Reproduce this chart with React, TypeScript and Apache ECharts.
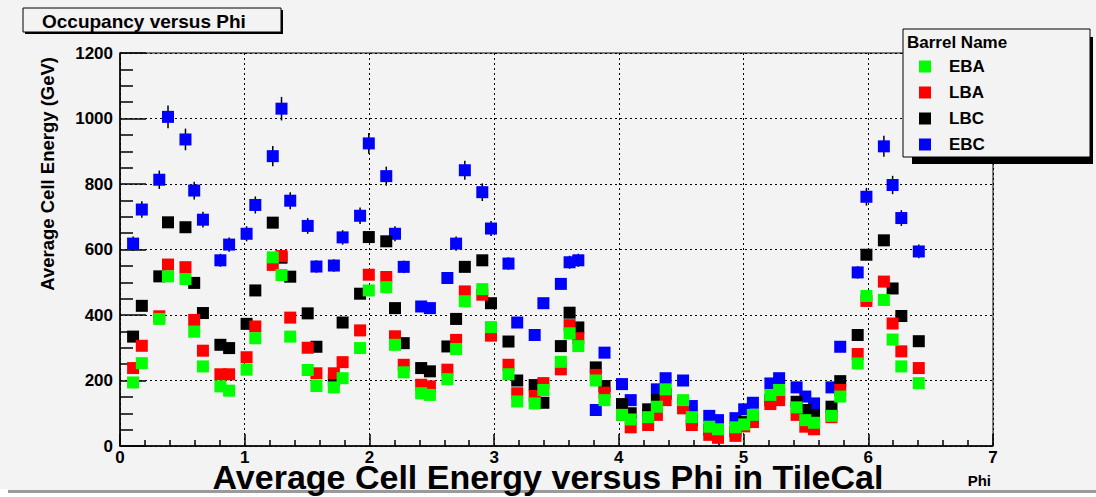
import React, { useEffect, useRef } from "react";
import * as echarts from "echarts";

// Phi bin centres where modules fall
const phi = [
  0.105, 0.175, 0.315, 0.385, 0.525, 0.595, 0.665, 0.805, 0.875, 1.015,
  1.085, 1.225, 1.295, 1.365, 1.505, 1.575, 1.715, 1.785, 1.925, 1.995,
  2.135, 2.205, 2.275, 2.415, 2.485, 2.625, 2.695, 2.765, 2.905, 2.975,
  3.115, 3.185, 3.325, 3.395, 3.535, 3.605, 3.675, 3.815, 3.885, 4.025,
  4.095, 4.235, 4.305, 4.375, 4.515, 4.585, 4.725, 4.795, 4.935, 5.005,
  5.075, 5.215, 5.285, 5.425, 5.495, 5.565, 5.705, 5.775, 5.915, 5.985,
  6.125, 6.195, 6.265, 6.405,
];

const eba = [
  194, 253, 388, 518, 510, 349, 243, 182, 169, 233,
  329, 576, 522, 334, 232, 183, 179, 207, 299, 475,
  485, 309, 225, 161, 156, 204, 296, 442, 479, 363,
  219, 136, 130, 171, 257, 344, 305, 200, 140, 95,
  81, 88, 120, 173, 140, 88, 59, 51, 57, 66,
  95, 156, 171, 118, 79, 71, 92, 151, 252, 458,
  446, 325, 243, 192,
];

const lba = [
  238, 306, 396, 554, 546, 385, 291, 219, 219, 271,
  365, 553, 580, 392, 300, 222, 222, 256, 353, 523,
  516, 335, 248, 187, 182, 233, 324, 472, 462, 337,
  248, 161, 153, 192, 234, 369, 329, 217, 163, 95,
  57, 64, 95, 140, 115, 64, 34, 25, 31, 60,
  73, 128, 140, 95, 59, 51, 88, 171, 281, 443,
  502, 374, 289, 238,
];

const lbc = [
  334, 428, 518, 683, 668, 498, 406, 309, 299, 373,
  475, 682, 575, 517, 405, 303, 200, 377, 465, 638,
  625, 421, 314, 238, 228, 304, 388, 547, 567, 436,
  319, 200, 186, 132, 305, 407, 362, 240, 183, 128,
  100, 112, 140, 160, 130, 80, 50, 40, 45, 73,
  85, 140, 155, 135, 110, 95, 120, 198, 339, 584,
  628, 481, 397, 320,
];

const ebc = [
  618, 722, 813, 1005, 936, 780, 691, 567, 615, 648,
  736, 885, 1030, 749, 672, 548, 551, 637, 703, 924,
  824, 648, 547, 426, 421, 513, 618, 842, 775, 664,
  557, 377, 339, 436, 495, 561, 567, 110, 285, 189,
  140, 95, 173, 207, 200, 122, 92, 79, 85, 112,
  132, 191, 207, 179, 151, 130, 179, 303, 530, 761,
  915, 797, 696, 594,
];

const ebcErr = [
  22, 25, 28, 35, 33, 27, 24, 20, 22, 23,
  26, 31, 36, 26, 24, 19, 19, 22, 25, 32,
  29, 23, 19, 15, 15, 18, 22, 29, 27, 23,
  19, 13, 12, 15, 17, 20, 20, 4, 10, 7,
  5, 4, 6, 7, 7, 5, 4, 3, 3, 4,
  5, 7, 7, 6, 5, 5, 6, 11, 19, 27,
  32, 28, 24, 21,
];

const legendNames = ["EBA", "LBA", "LBC", "EBC"];
const yTicks = [0, 200, 400, 600, 800, 1000, 1200];
const xTicks = [0, 1, 2, 3, 4, 5, 6, 7];

export default function App() {
  const ref = useRef<HTMLDivElement>(null);
  useEffect(() => {
    const chart = echarts.init(ref.current!, null, { renderer: "svg" });
    const font = "'Liberation Sans', Arial, Helvetica, sans-serif";
    const mk = (ys: number[]) => phi.map((x, i) => [x, ys[i]]);
    const bold = (size: number) => ({ fontSize: size, fontWeight: "bold", fontFamily: font, fill: "#000" });
    const gridLine = { show: true, lineStyle: { color: "#000", type: [2, 3], width: 1 } };
    const scatter = (name: string, ys: number[], color: string, z: number) => ({
      type: "scatter",
      name,
      data: mk(ys),
      symbol: "rect",
      symbolSize: 12,
      itemStyle: { color, opacity: 1 },
      z,
      silent: true,
    });
    const option: any = {
      animation: false,
      backgroundColor: "#f3f3f3",
      grid: {
        left: 120, top: 53, right: 103, bottom: 51,
        show: true, borderColor: "#000", borderWidth: 1, backgroundColor: "transparent",
      },
      xAxis: {
        type: "value",
        min: xTicks[0], max: xTicks[xTicks.length - 1], interval: 1,
        axisLine: { show: true, onZero: false, lineStyle: { color: "#000", width: 1.5 } },
        axisTick: { show: true, inside: true, length: 12, lineStyle: { color: "#000", width: 1.5 } },
        minorTick: { show: true, splitNumber: 5, length: 6, lineStyle: { color: "#000", width: 1.5 } },
        splitLine: gridLine,
        axisLabel: { color: "#000", fontSize: 17, fontWeight: "bold", fontFamily: font, margin: 5, lineHeight: 13 },
      },
      yAxis: {
        type: "value",
        min: yTicks[0], max: yTicks[yTicks.length - 1], interval: 200,
        axisLine: { show: true, onZero: false, lineStyle: { color: "#000", width: 1.5 } },
        axisTick: { show: true, inside: true, length: 26, lineStyle: { color: "#000", width: 1.5 } },
        minorTick: { show: true, splitNumber: 4, length: 13, lineStyle: { color: "#000", width: 1.5 } },
        splitLine: gridLine,
        axisLabel: {
          color: "#000", fontSize: 17, fontWeight: "bold", fontFamily: font, margin: 7,
          formatter: (v: number) => String(v),
        },
      },
      legend: {
        data: legendNames,
        orient: "vertical",
        left: 919, top: 58,
        itemWidth: 12, itemHeight: 12, itemGap: 9,
        icon: "rect",
        padding: 0,
        selectedMode: false,
        z: 10,
        textStyle: { color: "#000", fontSize: 17, fontWeight: "bold", fontFamily: font, padding: [0, 0, 0, 13], lineHeight: 12 },
      },
      series: [
        {
          type: "custom",
          name: "EBC errors",
          data: phi.map((x, i) => [x, ebc[i], ebcErr[i]]),
          encode: { x: 0, y: 1 },
          z: 1,
          silent: true,
          renderItem: (_p: any, api: any) => {
            const x = api.value(0), y = api.value(1), e = api.value(2);
            const a = api.coord([x, y - e]);
            const b = api.coord([x, y + e]);
            return {
              type: "line",
              shape: { x1: a[0], y1: a[1], x2: b[0], y2: b[1] },
              style: { stroke: "#000", lineWidth: 1.5 },
            };
          },
        },
        scatter("EBC", ebc, "#0000ff", 2),
        scatter("LBC", lbc, "#000000", 3),
        scatter("LBA", lba, "#ff0000", 4),
        scatter("EBA", eba, "#00ff00", 5),
      ],
      graphic: [
        // title pave
        { type: "rect", z: 6, shape: { x: 25, y: 10, width: 258, height: 24 }, style: { fill: "#000" } },
        { type: "rect", z: 7, shape: { x: 23, y: 8, width: 258, height: 24 }, style: { fill: "#f3f3f3", stroke: "#000", lineWidth: 1 } },
        { type: "text", z: 8, x: 42, y: 21, style: { text: "Occupancy versus Phi", ...bold(19), align: "left", verticalAlign: "middle" } },
        // legend box
        { type: "rect", z: 6, shape: { x: 912, y: 37, width: 181, height: 127 }, style: { fill: "#000" } },
        { type: "rect", z: 7, shape: { x: 903, y: 29, width: 187, height: 128 }, style: { fill: "#f3f3f3", stroke: "#000", lineWidth: 1 } },
        { type: "text", z: 8, x: 907, y: 42, style: { text: "Barrel Name", ...bold(17), align: "left", verticalAlign: "middle" } },
        // y axis title
        { type: "text", z: 8, x: 47, y: 57, rotation: Math.PI / 2, style: { text: "Average Cell Energy (GeV)", ...bold(18.5), align: "right", verticalAlign: "middle" } },
        // x axis title
        { type: "text", z: 8, x: 991, y: 480, style: { text: "Phi", ...bold(15), align: "right", verticalAlign: "middle" } },
        // caption
        { type: "text", z: 8, x: 548, y: 477, style: { text: "Average Cell Energy versus Phi in TileCal", ...bold(34), align: "center", verticalAlign: "middle", lineHeight: 22 } },
        // canvas bottom shadow
        { type: "rect", z: 6, shape: { x: 8, y: 490, width: 1088, height: 3 }, style: { fill: "#9a9a9a" } },
        { type: "rect", z: 6, shape: { x: 0, y: 493, width: 1096, height: 4 }, style: { fill: "#ffffff" } },
        { type: "rect", z: 6, shape: { x: 0, y: 489, width: 8, height: 8 }, style: { fill: "#ffffff" } },
      ],
    };
    chart.setOption(option);
    return () => chart.dispose();
  }, []);
  return <div ref={ref} style={{ position: "fixed", left: 0, top: 0, width: 1096, height: 497 }} />;
}
